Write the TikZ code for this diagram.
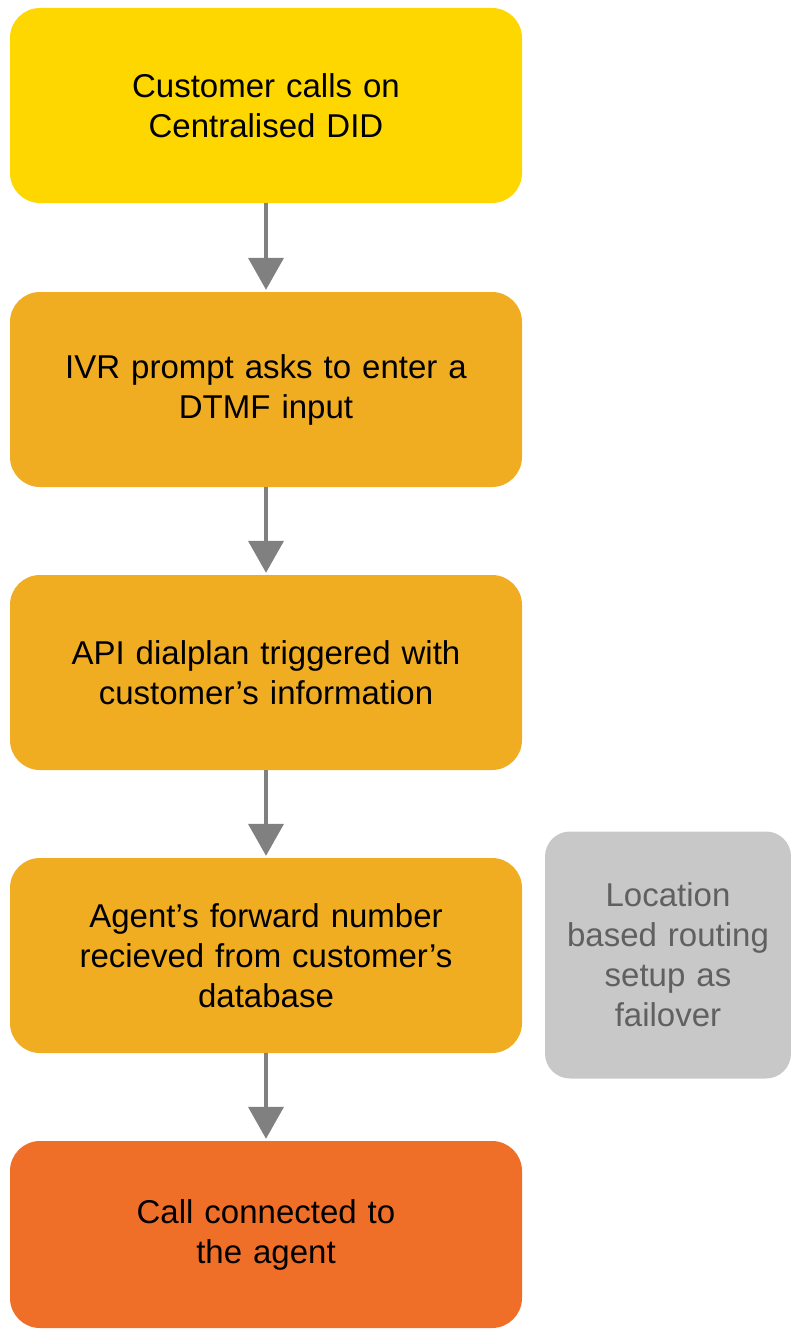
\documentclass[tikz,border=0pt]{standalone}
\usepackage{fontspec}
\setmainfont{Liberation Sans}
\usetikzlibrary{arrows.meta}
\definecolor{cyel}{RGB}{254,215,0}
\definecolor{corg}{RGB}{240,173,34}
\definecolor{cred}{RGB}{240,111,40}
\definecolor{cgry}{RGB}{200,200,200}
\definecolor{cgtx}{RGB}{96,96,96}
\definecolor{carr}{RGB}{128,128,128}
\tikzset{
  stepbox/.style={rounded corners=30pt, inner sep=0pt, minimum width=512pt, minimum height=195pt,
    text width=490pt, align=center, font=\fontsize{33}{40}\selectfont, text=black},
  sidebox/.style={rounded corners=25pt, inner sep=0pt, minimum width=246pt, minimum height=247pt,
    text width=244pt, align=center, font=\fontsize{33}{40}\selectfont, text=cgtx, fill=cgry},
  flow/.style={draw=carr, line width=4pt, -{Triangle[width=35pt,length=32pt]}, shorten >=2pt}
}
\begin{document}
\begin{tikzpicture}[x=1pt,y=-1pt]
\useasboundingbox (0,0) rectangle (791,1330);
\node[stepbox, fill=cyel] (b1) at (266,105.5) {Customer calls on\\Centralised DID};
\node[stepbox, fill=corg] (b2) at (266,389.5) {IVR prompt asks to enter a\\DTMF input};
\node[stepbox, fill=corg] (b3) at (266,672.5) {API dialplan triggered with\\customer’s information};
\node[stepbox, fill=corg] (b4) at (266,955.5) {Agent’s forward number\\recieved from customer’s\\database};
\node[stepbox, fill=cred, minimum height=187pt] (b5) at (266,1234.5) {Call connected to\\the agent};
\node[sidebox] (s1) at (668,955) {Location\\based routing\\setup as\\failover};
\draw[flow] (b1.south) -- (b2.north);
\draw[flow] (b2.south) -- (b3.north);
\draw[flow] (b3.south) -- (b4.north);
\draw[flow] (b4.south) -- (b5.north);
\end{tikzpicture}
\end{document}
